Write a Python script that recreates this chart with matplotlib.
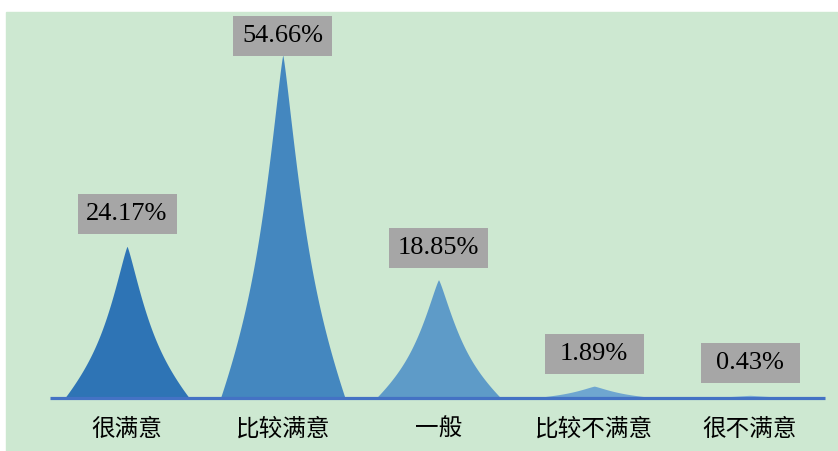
import numpy as np
import matplotlib
matplotlib.use("Agg")
import matplotlib.pyplot as plt
from matplotlib.patches import Rectangle

categories = ["很满意", "比较满意", "一般", "比较不满意", "很不满意"]
values = [24.17, 54.66, 18.85, 1.89, 0.43]
labels = ["24.17%", "54.66%", "18.85%", "1.89%", "0.43%"]
colors = ["#2e74b5", "#4487bf", "#5e9bc8", "#6fa6d0", "#7fb0d6"]

W, H = 838, 451
fig = plt.figure(figsize=(W / 100, H / 100), dpi=100, facecolor="white")
bg = "#cde8d1"
fig.patches.append(Rectangle((6 / W, 0), 1 - 6 / W, (H - 12) / H,
                             transform=fig.transFigure, color=bg, zorder=-10))

ax = fig.add_axes([6 / W, 0, 1 - 6 / W, (H - 12) / H])
ax.set_facecolor("none")
ax.axis("off")
ax.set_zorder(5)

step = 155.75
ppu = 6.275
x0 = 127
ax.set_xlim((6 - x0) / step, (838 - x0) / step)
ax.set_ylim(-(451 - 398) / ppu, (398 - 12) / ppu)

half = 0.40
t = np.linspace(-1, 1, 401)
prof = np.exp(-2.4 * np.abs(t) ** 1.2) * (1 - np.abs(t) ** 6)
for i, (v, c) in enumerate(zip(values, colors)):
    ax.fill_between(i + t * half, 0, v * prof, color=c, lw=0, zorder=2)

ax.plot([(50 - x0) / step, (825 - x0) / step], [0, 0], color="#4472c4",
        lw=2.3, solid_capstyle="butt", zorder=3)

bw, bh = 99 / step, 40 / ppu
ymax_c = (398 - 36) / ppu
for i, (v, lab) in enumerate(zip(values, labels)):
    yc = min(v + 32 / ppu, ymax_c)
    ax.add_patch(Rectangle((i - bw / 2, yc - bh / 2), bw, bh,
                           fc="#a6a6a6", ec="none", zorder=4))
    ax.text(i, yc, lab, ha="center", va="center", fontsize=19,
            family="Liberation Serif", color="#000000", zorder=5)

for i, cat in enumerate(categories):
    ax.text(i, -(429 - 398) / ppu, cat, ha="center", va="center",
            fontsize=17, family=["Noto Sans CJK SC", "DejaVu Sans"],
            color="#000000")

fig.savefig("out.png", dpi=100, facecolor="white")
